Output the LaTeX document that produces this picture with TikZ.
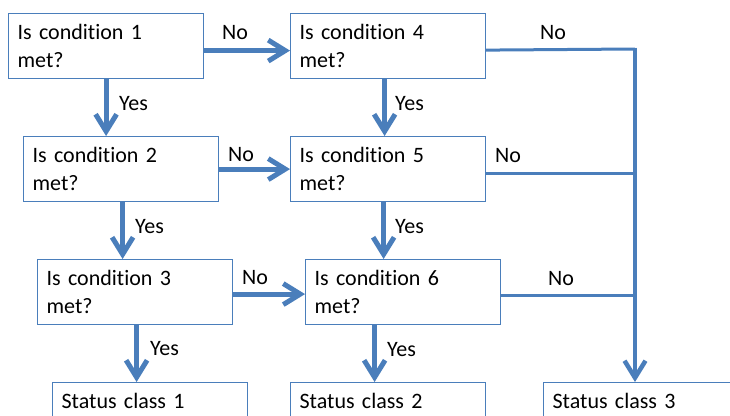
\documentclass[tikz,border=0pt]{standalone}
\usepackage{fontspec}
\setmainfont[Ligatures=NoCommon]{Carlito}
\usetikzlibrary{arrows.meta}
\definecolor{flow}{RGB}{74,126,187}
\tikzset{
  cond/.style={draw=flow, line width=1.2pt, anchor=north west,
    minimum width=195pt, minimum height=65pt, text width=177pt,
    inner xsep=9pt, inner ysep=0pt, align=left,
    font=\fontsize{22}{28}\selectfont},
  status/.style={draw=flow, line width=1.2pt, anchor=north west,
    minimum width=195pt, text width=177pt, inner xsep=9pt, inner ysep=8pt,
    text height=18pt, text depth=50pt, align=left,
    font=\fontsize{22}{28}\selectfont},
  lbl/.style={inner sep=0pt, anchor=base west, font=\fontsize{22}{28}\selectfont},
  arr/.style={draw=flow, line width=5pt,
    -{Straight Barb[length=17pt,width=21pt,line width=5pt]}},
  trunk/.style={draw=flow, line width=4pt,
    -{Straight Barb[length=17pt,width=21pt,line width=4.5pt]}},
  feeder/.style={draw=flow, line width=3pt},
}
\begin{document}
\begin{tikzpicture}[x=1pt,y=-1pt]
\useasboundingbox (0,0) rectangle (730,415);
\clip (0,0) rectangle (730,415);

% decision boxes
\node[cond] (b1) at (8,13)   {Is condition 1\\met?};
\node[cond] (b2) at (23,136) {Is condition 2\\met?};
\node[cond] (b3) at (37,259) {Is condition 3\\met?};
\node[cond] (b4) at (290,13) {Is condition 4\\met?};
\node[cond] (b5) at (290,136){Is condition 5\\met?};
\node[cond] (b6) at (305,259){Is condition 6\\met?};

% outcome boxes
\node[status] (s1) at (52,382)  {Status class 1};
\node[status] (s2) at (290,382) {Status class 2};
\node[status] (s3) at (543,382) {Status class 3};

% "No" branches to the right
\draw[arr] ([yshift=-4.5pt]b1.east) -- ([yshift=-4.5pt]b1.east -| b4.west);
\draw[arr] (b2.east) -- (b2.east -| b5.west);
\draw[arr] ([yshift=-2pt]b3.east) -- ([yshift=-2pt]b3.east -| b6.west);

% "Yes" branches downwards
\draw[arr] (b1.south) -- (b1.south |- b2.north);
\draw[arr] ([xshift=1.5pt]b2.south) -- ([xshift=1.5pt]b2.south |- b3.north);
\draw[arr] ([xshift=1.5pt]b3.south) -- ([xshift=1.5pt]b3.south |- s1.north);
\draw[arr] ([xshift=-3.5pt]b4.south) -- ([xshift=-3.5pt]b4.south |- b5.north);
\draw[arr] ([xshift=-4.5pt]b5.south) -- ([xshift=-4.5pt]b5.south |- b6.north);
\draw[arr] ([xshift=-28.5pt]b6.south) -- ([xshift=-28.5pt]b6.south |- s2.north);

% collecting line to status class 3
\coordinate (t) at (635,49);
\draw[feeder] ([yshift=-4pt]b4.east) -- (t);
\draw[feeder] ([yshift=-4pt]b5.east) -- ([yshift=-4pt,xshift=-2pt]b5.east -| t);
\draw[feeder] ([yshift=-3pt]b6.east) -- ([yshift=-3pt]b6.east -| t);
\draw[trunk] ([yshift=1.5pt]t) -- (t |- s3.north);

% branch labels
\node[lbl] (n1) at (222,39)  {No};
\node[lbl] (n2) at (228,161) {No};
\node[lbl] (n3) at (242,284) {No};
\node[lbl] (n4) at (540,39)  {No};
\node[lbl] (n5) at (495,162) {No};
\node[lbl] (n6) at (548,285) {No};
\node[lbl] (y1) at (119,110) {Yes};
\node[lbl] (y2) at (135,233) {Yes};
\node[lbl] (y3) at (150,355) {Yes};
\node[lbl] (y4) at (395,110) {Yes};
\node[lbl] (y5) at (395,233) {Yes};
\node[lbl] (y6) at (387,356) {Yes};
\end{tikzpicture}
\end{document}
